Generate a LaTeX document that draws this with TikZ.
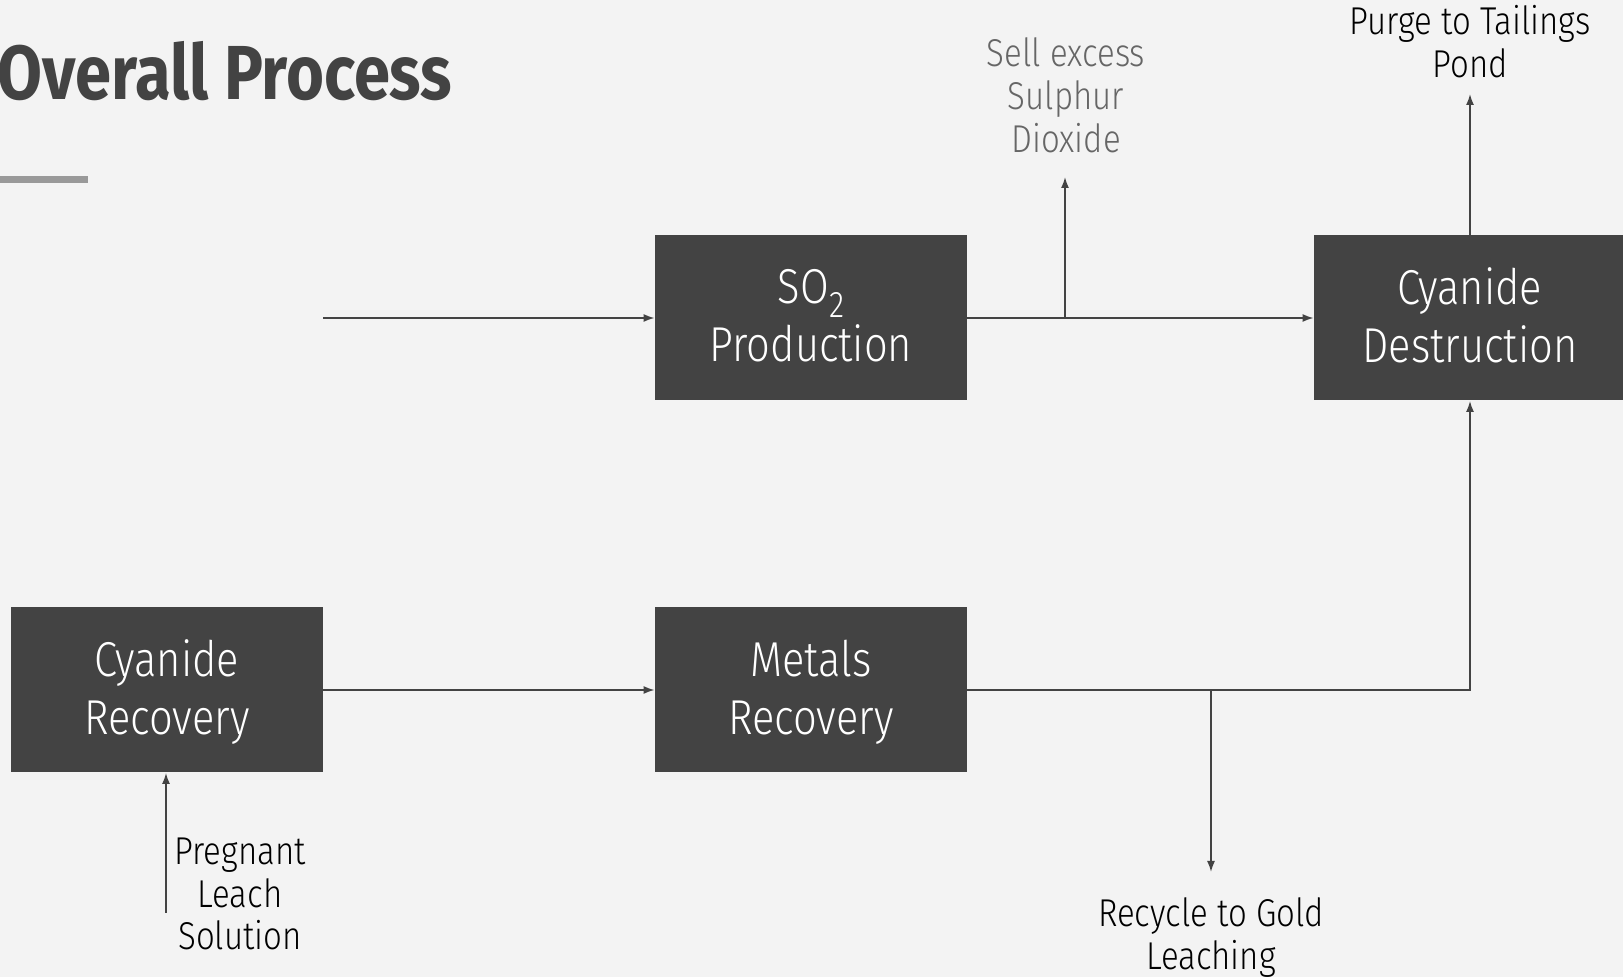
\documentclass[tikz,border=0pt]{standalone}
\usepackage{fontspec}
\setmainfont{Fira Sans}[UprightFont=* Light, BoldFont=* Bold, FakeStretch=0.85]
\usetikzlibrary{arrows.meta}
\definecolor{pagegray}{HTML}{F3F3F3}
\definecolor{unitgray}{HTML}{434343}
\definecolor{sellgray}{HTML}{666666}
\definecolor{bargray}{HTML}{999999}
\tikzset{
    unit/.style={fill=unitgray, text=white, minimum width=156pt, minimum height=82.5pt,
        align=center, inner sep=0pt, text depth=3pt, font=\fontsize{24.5}{29}\selectfont},
    flow/.style={draw=unitgray, line width=0.85pt, -{Latex[length=5.5pt, width=4pt]}},
    stream/.style={align=center, inner sep=0pt, anchor=base, font=\fontsize{19.4}{21.5}\selectfont},
}

\begin{document}
\begin{tikzpicture}[x=0.5pt, y=-0.5pt]
    \fill[pagegray] (0,0) rectangle (1623,977);
    \useasboundingbox (0,0) rectangle (1623,977);

    \node[anchor=base west, inner sep=0pt, text=unitgray, font=\bfseries\fontsize{38.3}{38.3}\selectfont] (title) at (-3,100) {Overall Process};
    \fill[bargray] (0,176) rectangle (88,183);

    \node[unit] (so2) at (811,318) {SO\raisebox{-.55ex}{\fontsize{18.5}{18.5}\selectfont 2}\\Production};
    \node[unit] (cydes) at (1470,318) {Cyanide\\Destruction};
    \node[unit] (cyrec) at (167,690) {Cyanide\\Recovery};
    \node[unit] (metrec) at (811,690) {Metals\\Recovery};

    \node[stream, text=sellgray] (sell) at (1066,153) {Sell excess\\Sulphur\\Dioxide};
    \node[stream] (purge) at (1470,78) {Purge to Tailings\\Pond};
    \node[stream] (recycle) at (1211,970) {Recycle to Gold\\Leaching};
    \node[stream] (pls) at (240,950) {Pregnant\\Leach\\Solution};

    \coordinate (feed) at (323,318);
    \coordinate (sellsplit) at (1065,318);
    \coordinate (sellend) at (1065,177);
    \coordinate (purgeend) at (1470,94);
    \coordinate (recsplit) at (1211,690);
    \coordinate (recend) at (1211,872);
    \coordinate (plsstart) at (166,913);

    \draw[flow] (feed) -- (so2);
    \draw[flow] (so2) -- (cydes);
    \draw[flow] (sellsplit) -- (sellend);
    \draw[flow] (cydes) -- (purgeend);
    \draw[flow] (cyrec) -- (metrec);
    \draw[flow] (metrec) -| (cydes);
    \draw[flow] (recsplit) -- (recend);
    \draw[flow] (plsstart) -- (plsstart |- cyrec.south);
\end{tikzpicture}
\end{document}
